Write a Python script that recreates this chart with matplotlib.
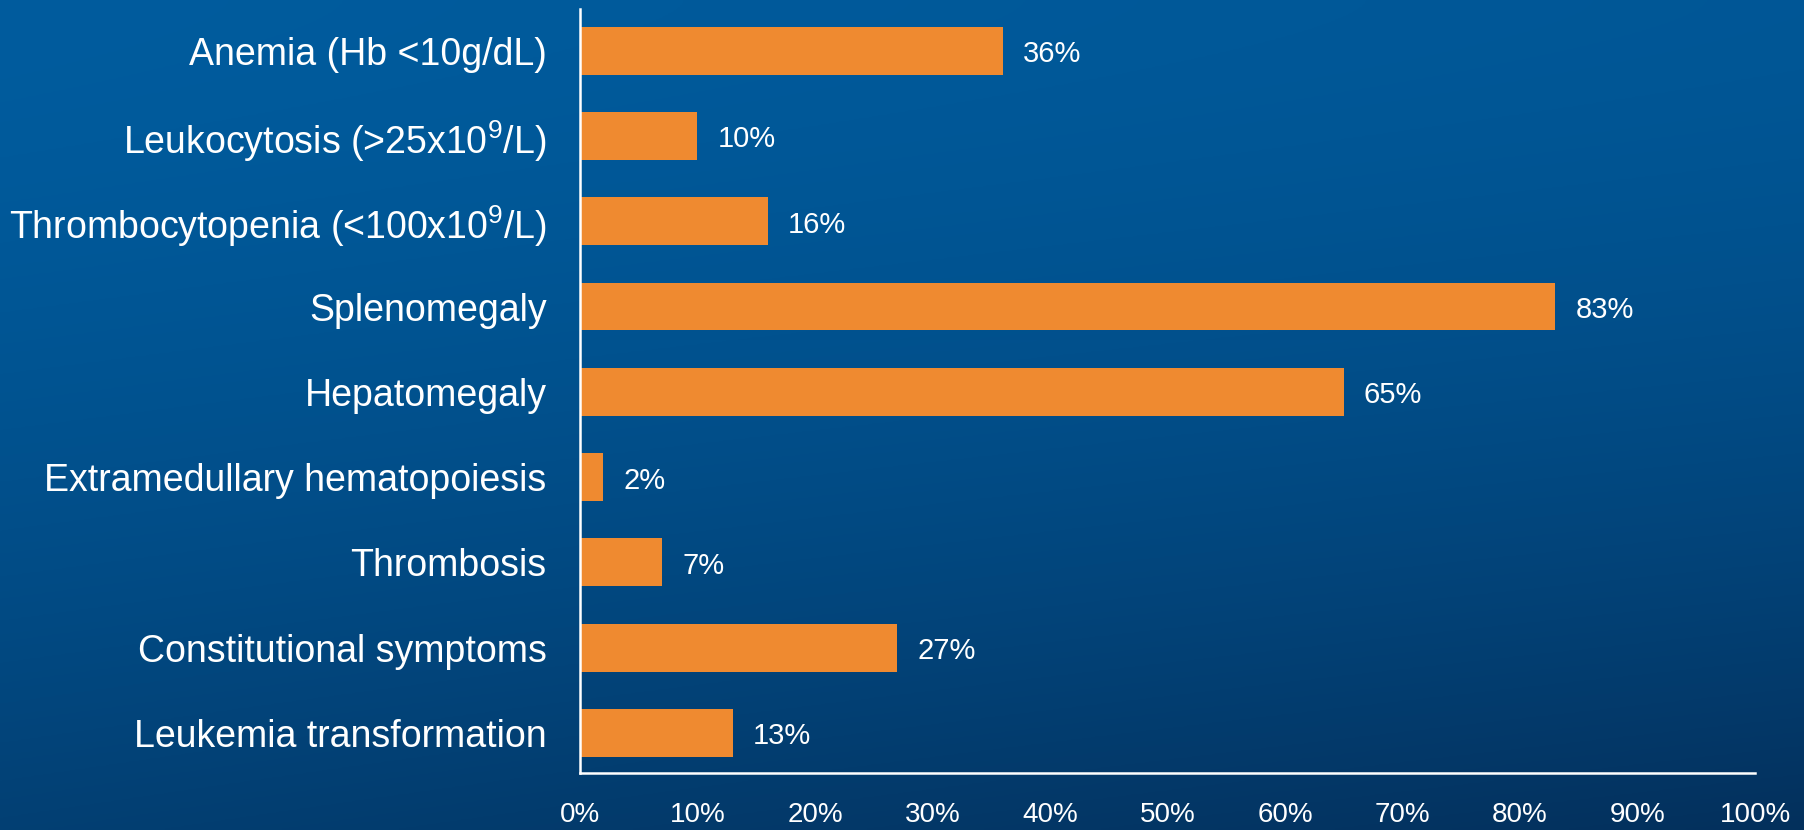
import numpy as np
import matplotlib.pyplot as plt

plt.rcParams['font.family'] = ['Liberation Sans', 'DejaVu Sans']
plt.rcParams['mathtext.fontset'] = 'custom'
plt.rcParams['mathtext.rm'] = 'Liberation Sans'

categories = [
    "Anemia (Hb <10g/dL)",
    "Leukocytosis (>25x10$^{\\mathrm{9}}$/L)",
    "Thrombocytopenia (<100x10$^{\\mathrm{9}}$/L)",
    "Splenomegaly",
    "Hepatomegaly",
    "Extramedullary hematopoiesis",
    "Thrombosis",
    "Constitutional symptoms",
    "Leukemia transformation",
]
values = [36, 10, 16, 83, 65, 2, 7, 27, 13]
xticks = [0, 10, 20, 30, 40, 50, 60, 70, 80, 90, 100]

fig = plt.figure(figsize=(18.04, 8.30), dpi=100)

# blue gradient background, lighter at the top, darker to the bottom right
bg = fig.add_axes([0, 0, 1, 1])
yy, xx = np.mgrid[0:1:300j, 0:1:600j]
t = 0.12 * xx + yy ** 1.6 * (0.65 + 0.23 * xx)
t = np.clip(t, 0, 1)
light = np.array([0, 92, 158]) / 255
dark = np.array([4, 48, 92]) / 255
img = light[None, None, :] * (1 - t[..., None]) + dark[None, None, :] * t[..., None]
bg.imshow(img, aspect='auto', extent=[0, 1, 0, 1], origin='upper')
bg.axis('off')

ax = fig.add_axes([0.3215, 0.0687, 0.6514, 0.9205])
ax.patch.set_alpha(0)
y = np.arange(len(categories))
ax.barh(y, values, height=0.56, color='#EF8A30')
for yi, v in zip(y, values):
    ax.text(v + 1.7, yi + 0.04, f"{v}%", color='white', fontsize=21,
            va='center', ha='left')

ax.set_xlim(0, 100)
ax.set_ylim(8.47, -0.49)
ax.set_yticks(y)
ax.set_yticklabels(categories, color='white', fontsize=27)
ax.set_xticks(xticks)
ax.set_xticklabels([f"{t}%" for t in xticks], color='white', fontsize=20)
ax.tick_params(axis='y', length=0, pad=24)
ax.tick_params(axis='x', length=0, pad=21)
for s in ['top', 'right']:
    ax.spines[s].set_visible(False)
for s in ['left', 'bottom']:
    ax.spines[s].set_color('white')
    ax.spines[s].set_linewidth(1.8)

plt.savefig("out.png", dpi=100)
